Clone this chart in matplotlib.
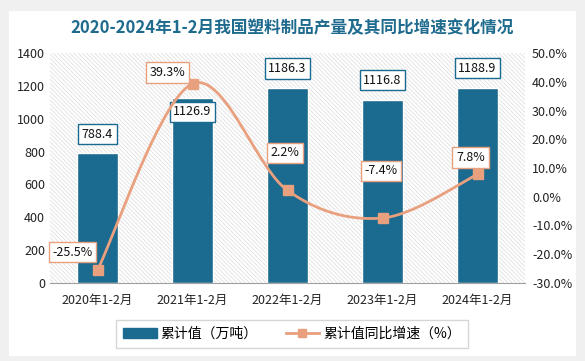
import numpy as np
import matplotlib
matplotlib.use("Agg")
import matplotlib.pyplot as plt
from matplotlib.patches import Rectangle
from matplotlib.lines import Line2D
from matplotlib.patches import Patch

plt.rcParams['font.family'] = ['Noto Sans CJK SC', 'DejaVu Sans']
plt.rcParams['hatch.linewidth'] = 0.6

categories = ["2020年1-2月", "2021年1-2月", "2022年1-2月", "2023年1-2月", "2024年1-2月"]
values = [788.4, 1126.9, 1186.3, 1116.8, 1188.9]
growth = [-25.5, 39.3, 2.2, -7.4, 7.8]
title = "2020-2024年1-2月我国塑料制品产量及其同比增速变化情况"
legend_bar = "累计值（万吨）"
legend_line = "累计值同比增速（%）"

BAR = "#1B6A8F"
LINE = "#E9A07F"

fig = plt.figure(figsize=(5.85, 3.61), dpi=100)
fig.patch.set_facecolor("#f0f0f0")
card = Rectangle((9/585, 5/361), 567/585, 345/361, transform=fig.transFigure,
                 facecolor="white", edgecolor="none", zorder=-10)
fig.patches.append(card)

ax = fig.add_axes([50/585, 1 - 283/361, 475/585, 230/361])
ax.set_facecolor("white")
ax.add_patch(Rectangle((0, 0), 1, 1, transform=ax.transAxes, facecolor="white",
                       edgecolor="#e0e0e0", hatch="\\" * 8, linewidth=0, zorder=0))

x = np.arange(len(categories))
ax.bar(x, values, width=0.43, color=BAR, edgecolor="white", linewidth=1.0, zorder=2)
ax.set_xlim(-0.5, len(categories) - 0.5)
ax.set_ylim(0, 1400)
ax.set_yticks(np.arange(0, 1401, 200))
ax.set_xticks(x)
ax.set_xticklabels(categories, fontsize=9)
ax.tick_params(axis='both', length=0, labelsize=9, colors="#222222")
ax.tick_params(axis='x', pad=8)
for s in ["top", "left", "right"]:
    ax.spines[s].set_visible(False)
ax.spines["bottom"].set_color("#a0a0a0")

ax2 = ax.twinx()
ax2.set_ylim(-30, 50)
ax2.set_yticks(np.arange(-30, 51, 10))
ax2.set_yticklabels([f"{v:.1f}%" for v in np.arange(-30, 51, 10)])
ax2.tick_params(axis='y', length=0, labelsize=9, colors="#222222", pad=5)
for s in ["top", "left", "right", "bottom"]:
    ax2.spines[s].set_visible(False)

# smooth curve (Catmull-Rom style as drawn by spreadsheet smoothing)
px = x.astype(float)
py = np.array(growth, dtype=float)
xs, ys = [], []
n = len(px)
for i in range(n - 1):
    p0 = (px[i - 1] if i > 0 else px[i], py[i - 1] if i > 0 else py[i])
    p1 = (px[i], py[i])
    p2 = (px[i + 1], py[i + 1])
    p3 = (px[i + 2] if i + 2 < n else px[i + 1], py[i + 2] if i + 2 < n else py[i + 1])
    c1 = (p1[0] + (p2[0] - p0[0]) / 6, p1[1] + (p2[1] - p0[1]) / 6)
    c2 = (p2[0] - (p3[0] - p1[0]) / 6, p2[1] - (p3[1] - p1[1]) / 6)
    t = np.linspace(0, 1, 40)
    bx = (1-t)**3*p1[0] + 3*(1-t)**2*t*c1[0] + 3*(1-t)*t**2*c2[0] + t**3*p2[0]
    by = (1-t)**3*p1[1] + 3*(1-t)**2*t*c1[1] + 3*(1-t)*t**2*c2[1] + t**3*p2[1]
    xs.extend(bx); ys.extend(by)
ax2.plot(xs, ys, color=LINE, linewidth=2, zorder=3)
ax2.plot(px, py, linestyle="none", marker="s", markersize=7, color=LINE, zorder=4)

bar_offsets = [14, -10, 14, 14, 14]
for xi, v, off in zip(x, values, bar_offsets):
    ax.annotate(f"{v:.1f}", (xi, v), xytext=(0, off), textcoords="offset points",
                ha="center", va="center", fontsize=9, color="#111111", zorder=6,
                bbox=dict(boxstyle="square,pad=0.3", facecolor="white", edgecolor=BAR, linewidth=1))

line_offsets = [(-18, 13), (-18, 8), (-2, 27), (-1, 34), (-5, 12)]
for xi, g, (dx, dy) in zip(px, py, line_offsets):
    ax2.annotate(f"{g:.1f}%", (xi, g), xytext=(dx, dy), textcoords="offset points",
                 ha="center", va="center", fontsize=9, color="#111111", zorder=6,
                 bbox=dict(boxstyle="square,pad=0.3", facecolor="white", edgecolor=LINE, linewidth=1))

fig.text(0.5, 1 - 28/361, title, ha="center", va="center", fontsize=12,
         fontweight="bold", color="#1F6B8E")

handles = [Patch(facecolor=BAR, edgecolor=BAR),
           Line2D([0], [0], color=LINE, linewidth=2, marker="s", markersize=6)]
leg = fig.legend(handles, [legend_bar, legend_line], loc="center",
                 bbox_to_anchor=(292/585, 1 - 334/361), ncol=2, fontsize=10,
                 frameon=True, fancybox=False, edgecolor="#cccccc",
                 handlelength=2.4, handletextpad=0.3, columnspacing=2.0, borderpad=0.5)
leg.get_frame().set_linewidth(1)

fig.savefig("out.png", dpi=100)
